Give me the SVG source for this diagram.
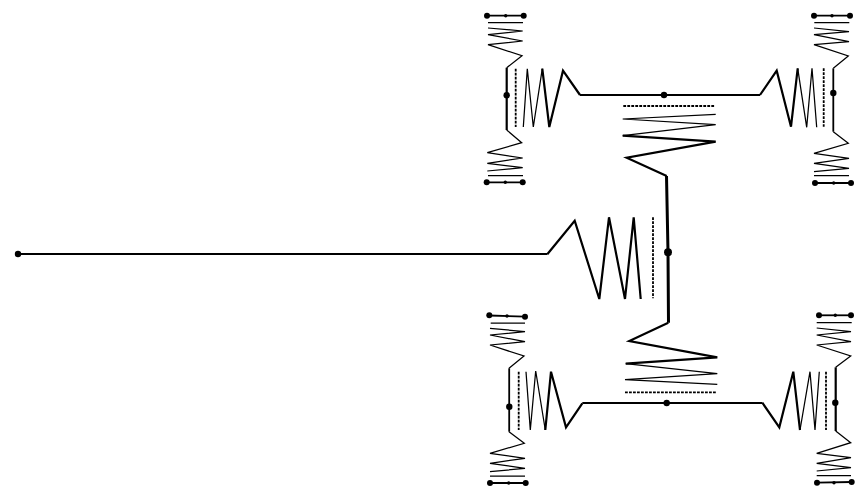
<svg xmlns="http://www.w3.org/2000/svg" width="868" height="498" viewBox="0 0 868 498">
<style>
path,line,polyline{fill:none;stroke:#000;stroke-linejoin:miter;stroke-linecap:butt}
circle{fill:#000;stroke:none}
.w3{stroke-width:3}.w2{stroke-width:2.2}.w15{stroke-width:1.8}.w1{stroke-width:1.25}
.d{stroke-width:1.8;stroke-dasharray:2.8 1.2}
</style>
<rect width="868" height="498" fill="#fff"/>
<g id="connectors">
<path class="w2" d="M18 254H547.3"/>
<path class="w2" d="M580 95H760"/>
<path class="w2" d="M582.3 403H762.3"/>
<path class="w3" d="M666.5 176L668 252L668.5 322.7"/>
<path class="w2" d="M506.7 67.7V130"/>
<path class="w15" d="M833.3 68.3V131.7"/>
<path class="w15" d="M509.2 368.3V431.7"/>
<path class="w2" d="M835.7 367.3V431"/>
<path class="w15" d="M487 15.7H523.7"/><path class="w15" d="M486.7 182.3H522.7"/>
<path class="w15" d="M814 15.7H850"/><path class="w15" d="M815 183H851"/>
<path class="w15" d="M489.3 315.5L525 316.7"/><path class="w15" d="M490 483H525.7"/>
<path class="w15" d="M819 315.3H851"/><path class="w15" d="M817 482.7L851.7 482"/>
</g>
<g id="port"><circle cx="18" cy="254" r="3.2"/></g>
<g id="hub-center"><circle cx="668" cy="252.3" r="4"/></g>
<g id="hub-top"><circle cx="664" cy="95" r="3.2"/></g>
<g id="hub-bottom"><circle cx="666.7" cy="403" r="3.2"/></g>
<g id="coil-center">
<path class="w2" d="M547.3 254.3L574.7 220.7L599.3 299L609 217.3L625 299L633.7 217.3L640.7 299"/>
<path class="d" d="M653 217.3V298.3"/>
</g>
<g id="coil-top">
<path class="d" d="M623.3 106H714.3"/>
<path class="w1" d="M715.7 114.3L622.7 119L715.7 124.7L622.7 135.7"/>
<path class="w2" d="M622.7 135.7L715.7 141.7L626.7 157.7L666.7 176"/>
</g>
<g id="coil-bottom">
<path class="w2" d="M668.3 322.7L629.3 341L717.3 357.3L625.7 363.7"/>
<path class="w1" d="M625.7 363.7L717.3 373.7L625 379.7L717.3 384.3"/>
<path class="d" d="M625 392.3H716.7"/>
</g>
<g id="coil-top-left">
<path class="w2" d="M580 95L563 70.7L549.3 127L542.3 68.7"/><path class="w1" d="M542.3 68.7L533.3 127L527.3 68.7L523.3 127"/>
<path class="d" d="M515.7 68.7V127"/>
</g>
<g id="coil-top-right">
<path class="w2" d="M760 95L776.7 70.7L791 126.7L797.7 68.3"/><path class="w1" d="M797.7 68.3L806.7 127.3L812 68.3L816.7 127.3"/>
<path class="d" d="M823.7 68.3V126.7"/>
</g>
<g id="coil-bottom-left">
<path class="w2" d="M582.3 403.3L566 427.3L551 371.7L545.3 430"/><path class="w1" d="M545.3 430L535.7 371L530.3 430L526 371.7"/>
<path class="d" d="M518.7 371.7V430"/>
</g>
<g id="coil-bottom-right">
<path class="w2" d="M762.3 402.7L779.3 427.3L793.3 371.7L800 430"/><path class="w1" d="M800 430L810 371.7L815 430L819.3 371.7"/>
<path class="d" d="M826 371.7V430"/>
</g>
<g id="mid-top-left"><circle cx="506.7" cy="95.3" r="3.2"/></g>
<g id="mid-top-right"><circle cx="833.3" cy="93" r="3.2"/></g>
<g id="mid-bottom-left"><circle cx="509.3" cy="406.7" r="3.2"/></g>
<g id="mid-bottom-right"><circle cx="835.3" cy="402.7" r="3.2"/></g>
<g id="tl-upper">
<circle cx="487" cy="15.7" r="3"/><circle cx="523.7" cy="15.7" r="3"/><circle cx="505.7" cy="15.7" r="1.7"/>
<path class="w1" d="M488 22.7H523"/>
<path class="w1" d="M488 28L522.7 31L488 34.7L522.7 41L488 44.7L522 55.7L506.7 67.7"/>
</g>
<g id="tl-lower">
<path class="w1" d="M506.7 130L521.7 142.7L487.3 152.7L522.7 158L487.3 163.3L522.7 167.7L487.3 171"/>
<path class="w1" d="M488 175.7H523"/>
<circle cx="486.7" cy="182.3" r="3"/><circle cx="522.7" cy="182.3" r="3"/><circle cx="505.3" cy="182.3" r="1.7"/>
</g>
<g id="tr-upper">
<circle cx="814" cy="15.7" r="3"/><circle cx="850" cy="15.7" r="3"/><circle cx="832" cy="15.7" r="1.7"/>
<path class="w1" d="M814.3 22.7H849.3"/>
<path class="w1" d="M814 28L849 31.7L814 34.7L849 41.7L814 44.7L848.3 56L833.3 68.3"/>
</g>
<g id="tr-lower">
<path class="w1" d="M833.3 131.7L848.3 143.3L814 153.3L849 158.3L814 163.3L849 168.3L814 171.7"/>
<path class="w1" d="M814 175.7H849"/>
<circle cx="815" cy="183" r="3"/><circle cx="851" cy="183" r="3"/><circle cx="833.7" cy="183" r="1.7"/>
</g>
<g id="bl-upper">
<circle cx="489.3" cy="315.3" r="3"/><circle cx="525" cy="316.7" r="3"/><circle cx="507" cy="316" r="1.7"/>
<path class="w1" d="M490.7 323H525"/>
<path class="w1" d="M490 328.3L525 331.7L490 335L525 341.7L490 345L524 356L509 368.3"/>
</g>
<g id="bl-lower">
<path class="w1" d="M509 431.7L524.3 443.3L490 453.3L525 458.3L490 463.3L525 468.3L490 471.7"/>
<path class="w1" d="M490 476H525"/>
<circle cx="490" cy="483" r="3"/><circle cx="525.7" cy="483" r="3"/><circle cx="508.7" cy="483" r="1.7"/>
</g>
<g id="br-upper">
<circle cx="819" cy="315.3" r="3"/><circle cx="851" cy="315.3" r="3"/><circle cx="835.3" cy="315.3" r="1.7"/>
<path class="w1" d="M816.7 322.7H851.7"/>
<path class="w1" d="M816.7 328L851 331.7L816.7 335L851 341.7L816.7 345L850.7 356L835.7 367.3"/>
</g>
<g id="br-lower">
<path class="w1" d="M835.7 431L850.7 442.7L816.7 453.3L851 457.7L816.7 463.3L851 467.7L816.7 471"/>
<path class="w1" d="M816.7 475.7H851"/>
<circle cx="817" cy="482.7" r="3"/><circle cx="851.7" cy="482" r="3"/><circle cx="834" cy="482.7" r="1.7"/>
</g>
</svg>
